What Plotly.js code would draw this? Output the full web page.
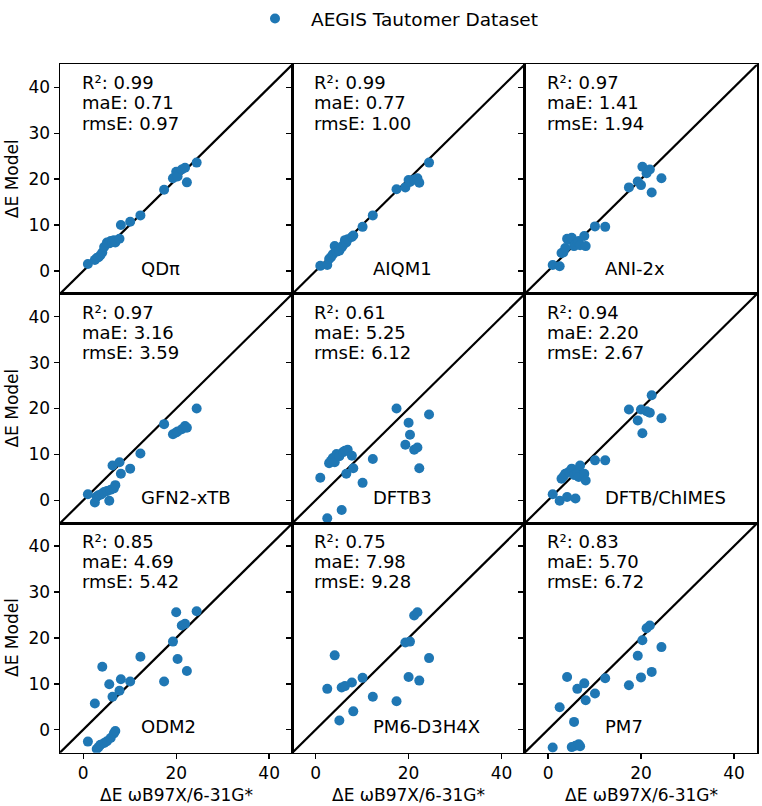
<!DOCTYPE html>
<html><head><meta charset="utf-8">
<script src="https://cdn.plot.ly/plotly-3.0.1.min.js"></script>
<style>html,body{margin:0;padding:0;background:#fff}</style>
</head><body><div id="chart" style="width:762px;height:806px"></div>
<script>
// Reference energies (ΔE ωB97X/6-31G*)
const refX = [1.0, 2.5, 2.9, 3.3, 3.7, 4.1, 4.5, 5.1, 5.6, 5.9, 6.3, 6.6, 6.9, 7.8, 8.1, 10.1, 12.3, 17.4, 19.3, 20.0, 20.3, 21.2, 21.9, 22.3, 24.4];
const models = ["QDπ", "AIQM1", "ANI-2x", "GFN2-xTB", "DFTB3", "DFTB/ChIMES", "ODM2", "PM6-D3H4X", "PM7"];
const yQDpi   = [1.5, 2.4, 2.8, 3.0, 3.4, 4.0, 5.2, 6.2, 6.0, 6.5, 6.3, 6.7, 6.2, 7.0, 10.0, 10.7, 12.1, 17.7, 20.2, 21.6, 20.6, 22.1, 22.5, 19.3, 23.6];
const yAIQM1  = [1.1, 1.3, 2.6, 3.0, 3.6, 5.4, 4.2, 4.4, 5.1, 5.6, 6.7, 6.2, 6.9, 7.4, 7.7, 9.6, 12.1, 17.8, 18.2, 19.8, 19.4, 19.9, 20.2, 19.2, 23.6];
const yANI2x  = [1.3, 1.0, 3.9, 4.0, 5.0, 7.0, 6.8, 7.2, 5.4, 5.8, 6.3, 6.5, 5.6, 7.6, 5.4, 9.7, 9.6, 18.2, 19.5, 18.7, 22.7, 21.3, 22.1, 17.1, 20.2];
const yGFN2   = [1.3, -0.5, 0.8, 1.1, 1.2, 1.5, 1.8, 2.0, -0.1, 2.3, 7.6, 2.6, 3.3, 8.3, 5.8, 6.9, 10.2, 16.6, 14.4, 14.8, 15.0, 15.5, 16.2, 15.8, 20.0];
const yDFTB3  = [4.9, -3.9, 8.1, 8.6, 9.2, 8.3, 10.1, 9.6, -2.1, 10.5, 10.8, 5.8, 11.0, 9.7, 7.0, 3.8, 9.0, 20.0, 12.1, 16.9, 14.3, 11.0, 11.5, 7.0, 18.7];
const yChIMES = [1.3, -0.1, 4.7, 5.2, 5.8, 0.7, 6.2, 6.9, 5.5, 0.4, 6.0, 5.1, 7.6, 5.8, 4.3, 8.7, 8.7, 19.8, 17.4, 19.8, 14.6, 19.4, 19.1, 22.9, 17.9];
const yODM2   = [-2.6, 5.7, -4.2, -3.8, -3.3, 13.7, -2.9, -2.5, 9.9, -1.8, 7.2, -0.8, -0.3, 8.5, 11.0, 10.5, 15.9, 10.5, 19.2, 25.6, 15.4, 22.7, 23.1, 12.8, 25.8];
const yPM6    = [-8.0, 8.9, -9.0, -8.0, -7.5, 16.2, -7.5, 2.0, 9.2, -7.5, 9.5, -7.5, -7.5, 10.3, 4.0, 11.3, 7.2, 6.2, 19.0, 11.5, 19.2, 24.9, 25.6, 10.7, 15.6];
const yPM7    = [-3.9, 4.9, -7.0, -8.0, -7.0, 11.5, -7.0, -3.8, 1.7, -3.5, 8.9, -3.2, -3.6, 10.1, 6.4, 7.9, 11.2, 9.7, 16.1, 11.4, 19.5, 22.1, 22.7, 12.6, 18.0];
const r2Text   = ["0.99", "0.99", "0.97", "0.97", "0.61", "0.94", "0.85", "0.75", "0.83"];
const maeText  = ["0.71", "0.77", "1.41", "3.16", "5.25", "2.20", "4.69", "7.98", "5.70"];
const rmseText = ["0.97", "1.00", "1.94", "3.59", "6.12", "2.67", "5.42", "9.28", "6.72"];
const diagonal = [-5, 45];
const xTicks = [0, 20, 40];
const yTicks = [0, 10, 20, 30, 40];

const series = [yQDpi, yAIQM1, yANI2x, yGFN2, yDFTB3, yChIMES, yODM2, yPM6, yPM7];

const W = 762, H = 806;
const colLeft = [60, 292.4, 524.8], panelW = 232.4;
const rowTop = [57, 288.7, 520.4], panelH = 231.7;
const FONT = "DejaVu Sans";

const data = [];
const annotations = [];
const layout = {
  width: W, height: H,
  margin: {l: 0, r: 0, t: 0, b: 0},
  paper_bgcolor: "white", plot_bgcolor: "white",
  font: {family: FONT, size: 17, color: "black"},
  showlegend: true,
  legend: {
    x: 239 / W, xanchor: "left", y: 1 - 11 / H, yanchor: "middle",
    orientation: "h", font: {family: FONT, size: 18.5, color: "black"},
    bgcolor: "rgba(0,0,0,0)", itemwidth: 62
  },
  annotations: annotations
};

for (let i = 0; i < 9; i++) {
  const r = Math.floor(i / 3), c = i % 3, s = i === 0 ? "" : String(i + 1);
  layout["xaxis" + s] = {
    domain: [colLeft[c] / W, (colLeft[c] + panelW) / W],
    anchor: "y" + s, range: [-5, 45], automargin: false,
    showline: true, mirror: true, linecolor: "black", linewidth: 1.4,
    showgrid: false, zeroline: false,
    tickmode: "array", tickvals: xTicks,
    ticks: r === 2 ? "outside" : "", ticklen: 5, tickwidth: 1.4, tickcolor: "black",
    showticklabels: r === 2, tickfont: {family: FONT, size: 17, color: "black"}
  };
  layout["yaxis" + s] = {
    domain: [1 - (rowTop[r] + panelH) / H, 1 - rowTop[r] / H],
    anchor: "x" + s, range: [-5, 45], automargin: false,
    showline: true, mirror: true, linecolor: "black", linewidth: 1.4,
    showgrid: false, zeroline: false,
    tickmode: "array", tickvals: yTicks,
    ticks: "outside", ticklen: 5, tickwidth: 1.4, tickcolor: "black",
    showticklabels: c === 0, tickfont: {family: FONT, size: 17, color: "black"}
  };
  data.push({
    x: diagonal, y: diagonal, xaxis: "x" + s, yaxis: "y" + s,
    mode: "lines", line: {color: "black", width: 2.2},
    showlegend: false, hoverinfo: "skip"
  });
  data.push({
    x: refX, y: series[i], xaxis: "x" + s, yaxis: "y" + s,
    mode: "markers", marker: {color: "#1f77b4", size: 10},
    name: "AEGIS Tautomer Dataset", showlegend: i === 0
  });
  const lines = ["R²: " + r2Text[i], "maE: " + maeText[i], "rmsE: " + rmseText[i]];
  const ys = [41.0, 36.6, 32.2];
  lines.forEach((t, k) => annotations.push({
    xref: "x" + s, yref: "y" + s, x: -0.7, y: ys[k],
    xanchor: "left", yanchor: "middle", showarrow: false,
    text: t, font: {family: FONT, size: 18, color: "black"}
  }));
  annotations.push({
    xref: "x" + s, yref: "y" + s, x: 11.9, y: 0.6,
    xanchor: "left", yanchor: "middle", showarrow: false,
    text: models[i], font: {family: FONT, size: 18, color: "black"}
  });
  if (c === 0) {
    annotations.push({
      xref: "paper", yref: "paper", x: 12 / W, y: 1 - (rowTop[r] + panelH / 2) / H,
      xanchor: "center", yanchor: "middle", showarrow: false, textangle: -90,
      text: "ΔE Model", font: {family: FONT, size: 17, color: "black"}
    });
  }
  if (r === 2) {
    annotations.push({
      xref: "paper", yref: "paper", x: (colLeft[c] + panelW / 2) / W, y: 1 - 795 / H,
      xanchor: "center", yanchor: "middle", showarrow: false,
      text: "ΔE ωB97X/6-31G*", font: {family: FONT, size: 17, color: "black"}
    });
  }
}

Plotly.newPlot("chart", data, layout, {displayModeBar: false, staticPlot: true});
</script>
</body></html>
